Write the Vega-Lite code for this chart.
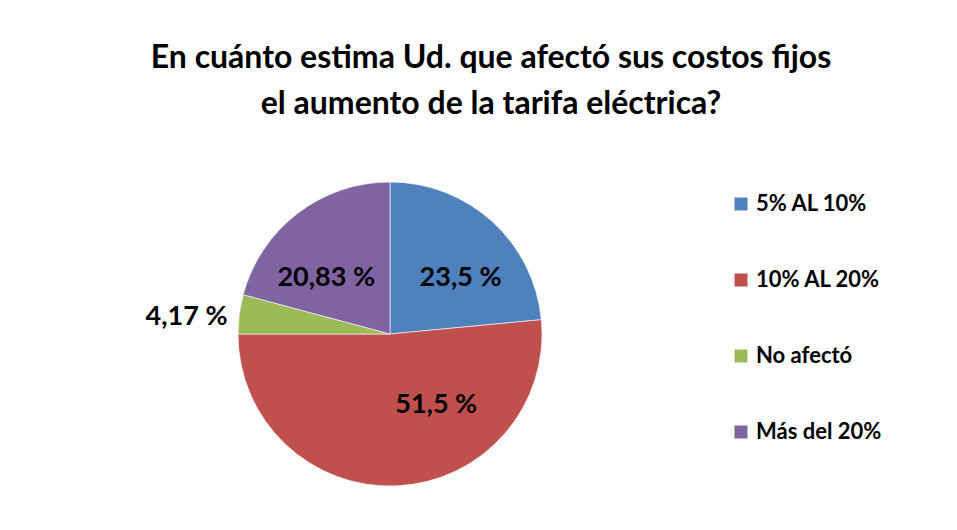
{
  "$schema": "https://vega.github.io/schema/vega-lite/v6.json",
  "autosize": {"type": "none"},
  "width": 780,
  "height": 368,
  "padding": {"left": 0, "top": 150, "right": 177, "bottom": 12},
  "background": "white",
  "title": {
    "text": ["En cuánto estima Ud. que afectó sus costos fijos", "el aumento de la tarifa eléctrica?"],
    "anchor": "middle",
    "frame": "group",
    "dx": 101,
    "offset": 29,
    "font": "Lato",
    "fontSize": 32,
    "fontWeight": "bold",
    "color": "#000000",
    "lineHeight": 46
  },
  "data": {
    "values": [
      {"cat": "5% AL 10%", "value": 23.5, "label": "23,5 %", "orden": 1},
      {"cat": "10% AL 20%", "value": 51.5, "label": "51,5 %", "orden": 2},
      {"cat": "No afectó", "value": 4.17, "label": "4,17 %", "orden": 3},
      {"cat": "Más del 20%", "value": 20.83, "label": "20,83 %", "orden": 4}
    ]
  },
  "encoding": {
    "theta": {"field": "value", "type": "quantitative", "stack": true},
    "order": {"field": "orden", "type": "quantitative"}
  },
  "layer": [
    {
      "mark": {"type": "arc", "outerRadius": 152, "stroke": "#ffffff", "strokeWidth": 0.6},
      "encoding": {
        "color": {
          "field": "cat",
          "type": "nominal",
          "scale": {
            "domain": ["5% AL 10%", "10% AL 20%", "No afectó", "Más del 20%"],
            "range": ["#4F81BD", "#C0504D", "#9BBB59", "#8064A2"]
          },
          "legend": {
            "title": null,
            "orient": "none",
            "legendX": 730,
            "legendY": 43,
            "padding": 0,
            "symbolType": "square",
            "symbolSize": 169,
            "symbolStrokeWidth": 0,
            "labelFont": "Lato",
            "labelFontSize": 22,
            "labelFontWeight": "bold",
            "labelColor": "#000000",
            "labelOffset": 4,
            "rowPadding": 54
          }
        }
      }
    },
    {
      "mark": {"type": "text", "radius": 90, "dx": 10, "dy": 11, "font": "Lato", "fontSize": 27, "fontWeight": "bold", "color": "#000000"},
      "encoding": {"text": {"condition": {"test": "datum.cat === '5% AL 10%'", "field": "label"}, "value": ""}}
    },
    {
      "mark": {"type": "text", "radius": 90, "dx": 42, "dy": -19, "font": "Lato", "fontSize": 27, "fontWeight": "bold", "color": "#000000"},
      "encoding": {"text": {"condition": {"test": "datum.cat === '10% AL 20%'", "field": "label"}, "value": ""}}
    },
    {
      "mark": {"type": "text", "radius": 180, "dx": -25, "dy": 7, "font": "Lato", "fontSize": 27, "fontWeight": "bold", "color": "#000000"},
      "encoding": {"text": {"condition": {"test": "datum.cat === 'No afectó'", "field": "label"}, "value": ""}}
    },
    {
      "mark": {"type": "text", "radius": 90, "dx": -9, "dy": 15, "font": "Lato", "fontSize": 27, "fontWeight": "bold", "color": "#000000"},
      "encoding": {"text": {"condition": {"test": "datum.cat === 'Más del 20%'", "field": "label"}, "value": ""}}
    }
  ],
  "config": {"view": {"stroke": null}}
}
